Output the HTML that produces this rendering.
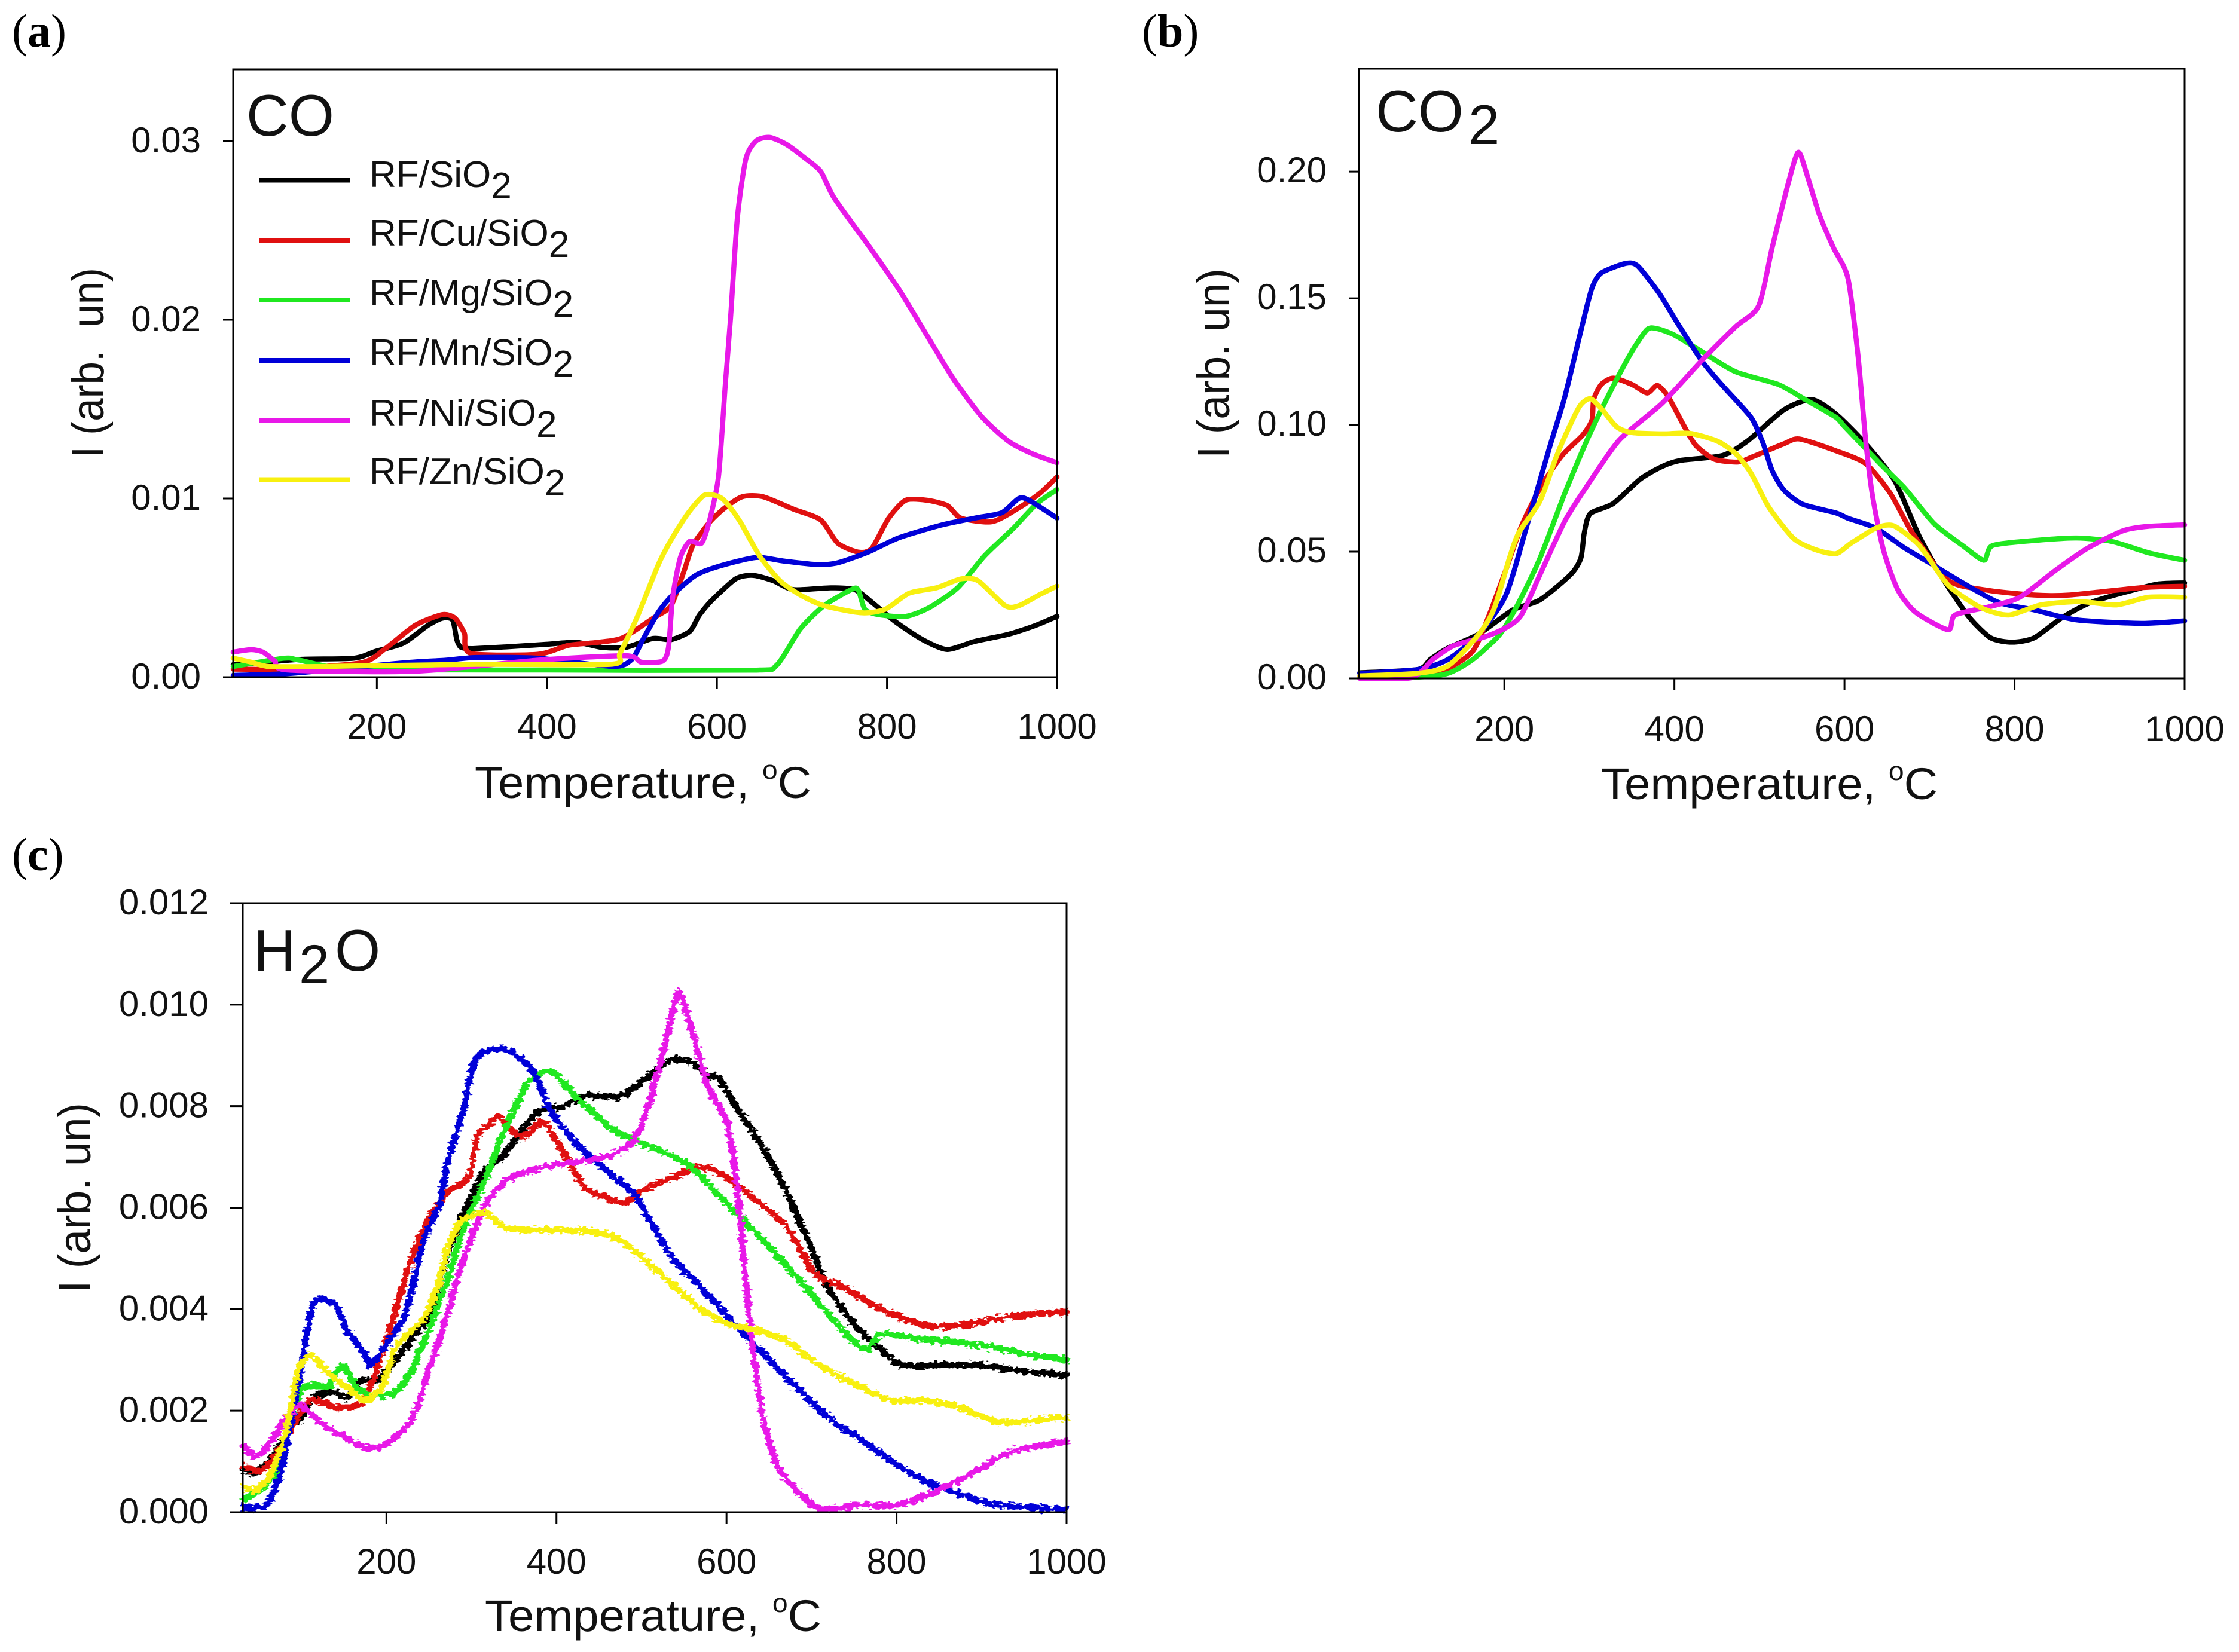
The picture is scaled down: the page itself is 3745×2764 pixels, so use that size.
<!DOCTYPE html>
<html lang="en">
<head>
<meta charset="utf-8">
<title>RF catalysts: CO, CO2 and H2O evolution versus temperature</title>
<style>
html,body{margin:0;padding:0;background:#fff;}
svg{display:block;font-family:"Liberation Sans",sans-serif;fill:#111;}
.serif{font-family:"Liberation Serif",serif;font-size:78px;fill:#000;}
.legend-text{font-size:62px;}
.title{font-size:98px;}
</style>
</head>
<body>
<svg id="fig" xmlns="http://www.w3.org/2000/svg" width="3745" height="2764" viewBox="0 0 3745 2764">
  <defs>
    <filter id="noise" filterUnits="userSpaceOnUse" x="300" y="1500" width="1600" height="1100" color-interpolation-filters="sRGB">
      <feTurbulence type="fractalNoise" baseFrequency="0.11 0.2" numOctaves="2" seed="4" result="n"/>
      <feDisplacementMap in="SourceGraphic" in2="n" scale="15" xChannelSelector="G" yChannelSelector="R"/>
    </filter>
  </defs>
  <rect width="3745" height="2764" fill="#fff"/>

  <text class="serif" x="20" y="78">(<tspan font-weight="bold">a</tspan>)</text>
  <text class="serif" x="1910" y="78">(<tspan font-weight="bold">b</tspan>)</text>
  <text class="serif" x="20" y="1456">(<tspan font-weight="bold">c</tspan>)</text>

  <g id="panel-a"></g>
  <g id="panel-b"></g>
  <g id="panel-c"></g>

  <text class="title" x="412" y="227">CO</text>
  <text class="title" x="2301" y="220">CO<tspan font-size="94" x="2456" y="241">2</tspan></text>
  <text class="title" x="424" y="1624">H<tspan font-size="92" x="500" y="1645">2</tspan><tspan font-size="98" x="560" y="1624">O</tspan></text>

  <g>
    <g>
      <line x1="434" x2="585" y1="301.5" y2="301.5" stroke="#000" stroke-width="8"/>
      <text class="legend-text" x="618" y="313">RF/SiO<tspan font-size="62" dy="19">2</tspan></text>
    </g>
    <g>
      <line x1="434" x2="585" y1="402" y2="402" stroke="#e01010" stroke-width="8"/>
      <text class="legend-text" x="618" y="411">RF/Cu/SiO<tspan font-size="62" dy="19">2</tspan></text>
    </g>
    <g>
      <line x1="434" x2="585" y1="502" y2="502" stroke="#20e820" stroke-width="8"/>
      <text class="legend-text" x="618" y="511">RF/Mg/SiO<tspan font-size="62" dy="19">2</tspan></text>
    </g>
    <g>
      <line x1="434" x2="585" y1="603" y2="603" stroke="#0000d8" stroke-width="8"/>
      <text class="legend-text" x="618" y="611">RF/Mn/SiO<tspan font-size="62" dy="19">2</tspan></text>
    </g>
    <g>
      <line x1="434" x2="585" y1="703" y2="703" stroke="#e818e8" stroke-width="8"/>
      <text class="legend-text" x="618" y="712">RF/Ni/SiO<tspan font-size="62" dy="19">2</tspan></text>
    </g>
    <g>
      <line x1="434" x2="585" y1="802.5" y2="802.5" stroke="#f8f010" stroke-width="8"/>
      <text class="legend-text" x="618" y="810">RF/Zn/SiO<tspan font-size="62" dy="19">2</tspan></text>
    </g>
  </g>
</svg>

<script>
// Shared axis ticks
const xTicks = [200, 400, 600, 800, 1000];
const coYTicks = [0, 0.01, 0.02, 0.03];
const coYLabels = ["0.00", "0.01", "0.02", "0.03"];
const co2YTicks = [0, 0.05, 0.10, 0.15, 0.20];
const co2YLabels = ["0.00", "0.05", "0.10", "0.15", "0.20"];
const h2oYTicks = [0, 0.002, 0.004, 0.006, 0.008, 0.010, 0.012];
const h2oYLabels = ["0.000", "0.002", "0.004", "0.006", "0.008", "0.010", "0.012"];

// Panel (a) CO
const coTempSi = [31,60,112,173,199,231,260,277,289,294,299,313,353,399,435,464,493,525,546,568,579,594,622,642,666,690,734,762,782,810,842,871,903,943,975,1000];
const coValSi = [0.0007,0.0008,0.001,0.00106,0.00145,0.0019,0.0029,0.0033,0.0032,0.0021,0.00167,0.0016,0.0017,0.00184,0.00195,0.00167,0.00167,0.00217,0.0021,0.00256,0.00345,0.0043,0.0055,0.0057,0.0054,0.0049,0.005,0.0049,0.0042,0.0031,0.0021,0.00155,0.002,0.0024,0.0029,0.0034];
const coTempCu = [31,85,181,209,245,277,292,303,310,389,425,460,489,525,546,561,572,592,610,630,654,690,722,742,766,782,802,822,847,871,887,924,956,980,1000];
const coValCu = [0.00045,0.00045,0.0008,0.00156,0.0029,0.0035,0.0033,0.00245,0.00134,0.00128,0.00178,0.00195,0.0022,0.0033,0.004,0.0059,0.0074,0.0087,0.0095,0.0101,0.0101,0.0094,0.0088,0.0075,0.007,0.0072,0.0089,0.0099,0.0099,0.0096,0.0089,0.0087,0.0095,0.0103,0.0112];
const coTempMg = [31,91,109,173,400,640,670,698,726,758,766,774,790,822,850,883,915,948,976,1000];
const coValMg = [0.0006,0.00106,0.00095,0.00045,0.0004,0.00039,0.00066,0.0027,0.004,0.0049,0.0049,0.0038,0.0035,0.0034,0.0039,0.005,0.0068,0.0083,0.0097,0.0105];
const coTempMn = [31,102,231,281,317,389,478,500,514,532,550,575,602,646,678,718,742,778,814,863,903,935,955,967,1000];
const coValMn = [0.0001,0.00022,0.0008,0.00095,0.0011,0.00106,0.0006,0.001,0.0022,0.0037,0.0047,0.0057,0.0062,0.0067,0.0065,0.0063,0.0064,0.007,0.0078,0.0085,0.0089,0.0092,0.01,0.0099,0.0089];
const coTempNi = [31,52,66,80,95,245,389,493,511,536,543,548,557,568,582,592,602,610,616,624,634,646,662,682,702,722,738,782,814,846,878,911,943,971,1000];
const coValNi = [0.0014,0.00154,0.0014,0.0009,0.0004,0.00033,0.00095,0.0012,0.00084,0.0009,0.00167,0.0045,0.0067,0.0076,0.0075,0.0089,0.0113,0.0165,0.0201,0.0257,0.029,0.03,0.0302,0.0298,0.0291,0.0283,0.0268,0.0239,0.0217,0.0192,0.0167,0.0146,0.0132,0.0125,0.012];
const coTempZn = [31,52,73,135,317,475,486,507,532,550,568,586,606,626,650,674,698,726,770,798,826,858,887,907,939,955,979,1000];
const coValZn = [0.00106,0.00084,0.0006,0.0006,0.00072,0.00072,0.00134,0.00346,0.0064,0.008,0.0093,0.0102,0.01,0.0088,0.0068,0.0054,0.0046,0.004,0.0036,0.0038,0.0047,0.005,0.0055,0.0054,0.004,0.004,0.0046,0.0051];

// Panel (b) CO2
const co2TempSi = [30,98,113,134,170,210,242,278,290,294,301,328,360,386,407,457,486,529,562,591,625,659,688,717,747,772,797,823,856,890,941,970,1000];
const co2ValSi = [0.0022,0.0035,0.0075,0.012,0.0175,0.027,0.031,0.041,0.0475,0.0575,0.065,0.069,0.0787,0.0837,0.086,0.088,0.0937,0.106,0.11,0.104,0.0925,0.078,0.056,0.0387,0.024,0.016,0.0143,0.016,0.024,0.03,0.035,0.0373,0.0377];
const co2TempCu = [30,98,134,163,181,202,220,242,267,292,303,305,314,328,350,368,380,393,411,425,447,475,493,529,547,590,625,654,680,722,768,823,865,949,1000];
const co2ValCu = [0.001,0.0013,0.004,0.0108,0.024,0.043,0.06,0.075,0.0876,0.096,0.102,0.11,0.116,0.1185,0.116,0.1126,0.1156,0.111,0.0998,0.092,0.0865,0.0854,0.0876,0.0926,0.0945,0.0898,0.0847,0.073,0.0573,0.0387,0.0348,0.0329,0.0329,0.0358,0.0364];
const co2TempMg = [30,98,134,163,195,217,242,271,299,328,350,368,380,400,432,472,522,554,590,600,642,671,705,739,764,774,823,873,915,958,1000];
const co2ValMg = [0.0003,0.0005,0.002,0.0075,0.0175,0.03,0.0475,0.073,0.0954,0.1154,0.129,0.1377,0.138,0.1355,0.129,0.121,0.116,0.11,0.103,0.0994,0.0847,0.075,0.0612,0.0524,0.0466,0.0524,0.0544,0.0554,0.054,0.0495,0.0466];
const co2TempMn = [30,98,134,170,202,228,253,271,292,303,314,343,357,382,404,432,457,490,504,515,529,551,590,604,637,671,705,739,781,823,873,949,1000];
const co2ValMn = [0.002,0.0035,0.0075,0.0175,0.033,0.062,0.091,0.111,0.14,0.154,0.16,0.1638,0.1627,0.152,0.14,0.1254,0.1154,0.103,0.093,0.082,0.0742,0.0687,0.0653,0.0632,0.0593,0.0514,0.0446,0.0377,0.03,0.027,0.0231,0.0217,0.0227];
const co2TempNi = [30,91,116,141,177,202,220,242,271,296,335,386,432,472,499,515,532,543,549,570,587,604,616,625,633,646,663,684,722,730,772,806,848,886,928,957,1000];
const co2ValNi = [0,0.0003,0.0075,0.013,0.0164,0.02,0.025,0.041,0.062,0.0753,0.094,0.1087,0.1254,0.1388,0.147,0.17,0.193,0.206,0.206,0.1835,0.17,0.158,0.127,0.0935,0.072,0.0505,0.0348,0.026,0.0192,0.025,0.0284,0.032,0.0426,0.0514,0.0583,0.06,0.0606];
const co2TempZn = [30,98,134,170,188,206,217,242,260,274,289,301,314,332,350,386,418,450,472,490,511,540,565,590,608,637,658,688,722,760,793,831,877,920,957,1000];
const co2ValZn = [0.001,0.002,0.005,0.0175,0.0275,0.0475,0.0575,0.07,0.0865,0.0976,0.1076,0.1104,0.1065,0.0993,0.097,0.0965,0.0967,0.0937,0.0887,0.081,0.0676,0.0553,0.0509,0.0492,0.0534,0.0593,0.0602,0.0524,0.0368,0.028,0.025,0.029,0.0303,0.029,0.032,0.032];

// Panel (c) H2O
const h2oTempSi = [32,46,64,85,100,114,139,153,171,189,207,229,250,272,293,315,336,354,379,408,433,476,505,533,554,579,591,611,631,656,676,700,717,741,761,782,806,855,896,937,1000];
const h2oValSi = [0.00086,0.00077,0.00105,0.0016,0.00185,0.00225,0.00237,0.00225,0.0026,0.0026,0.0029,0.0034,0.0039,0.0051,0.006,0.0067,0.007,0.0074,0.0079,0.008,0.0082,0.0082,0.00855,0.0089,0.0089,0.0086,0.00855,0.008,0.0075,0.0068,0.0061,0.0052,0.0045,0.0039,0.0035,0.0032,0.0029,0.0029,0.0029,0.0028,0.0027];
const h2oTempCu = [32,50,64,85,110,143,171,186,204,218,232,250,272,297,307,318,332,343,361,383,397,415,433,458,479,508,536,572,599,639,672,704,741,782,830,871,936,1000];
const h2oValCu = [0.0009,0.0008,0.001,0.00154,0.0022,0.00206,0.00215,0.0027,0.0036,0.0044,0.0051,0.0058,0.0063,0.0066,0.0074,0.0076,0.0078,0.0076,0.0074,0.0077,0.0074,0.0069,0.0064,0.0062,0.0061,0.0064,0.0066,0.0068,0.0066,0.0061,0.0056,0.0047,0.0044,0.004,0.0037,0.00367,0.00386,0.00395];
const h2oTempMg = [32,50,71,85,100,118,132,143,152,164,186,211,229,250,272,293,315,336,358,368,393,422,465,497,554,611,652,700,741,765,782,834,896,957,1000];
const h2oValMg = [0.00025,0.00043,0.0008,0.00166,0.0024,0.0025,0.00246,0.0028,0.00285,0.00246,0.0023,0.00237,0.00277,0.0036,0.0046,0.0057,0.0065,0.0074,0.0082,0.0085,0.0087,0.0082,0.00756,0.0073,0.00685,0.0059,0.0052,0.0043,0.0035,0.0032,0.0035,0.0034,0.0033,0.0031,0.003];
const h2oTempMn = [32,57,75,96,114,139,153,175,182,204,222,243,261,272,290,304,322,343,372,390,408,433,454,490,508,537,572,599,627,656,692,725,757,798,835,875,916,1000];
const h2oValMn = [0.0001,0.00012,0.00074,0.0025,0.0041,0.0041,0.0036,0.0031,0.0029,0.0034,0.0039,0.0053,0.006,0.0069,0.0079,0.0089,0.0091,0.0091,0.0087,0.008,0.00756,0.0071,0.0068,0.0063,0.0058,0.005,0.0044,0.0039,0.0034,0.0029,0.0023,0.0018,0.00144,0.00097,0.0006,0.00035,0.00014,0.00005];
const h2oTempNi = [32,46,60,82,98,128,171,196,229,250,268,289,307,322,347,386,422,458,490,508,526,533,544,558,578,601,615,627,643,660,684,713,753,802,851,896,936,1000];
const h2oValNi = [0.0013,0.0011,0.0013,0.00185,0.0021,0.0017,0.0013,0.0013,0.0018,0.0028,0.0037,0.0049,0.0057,0.0062,0.0066,0.0068,0.0069,0.007,0.0073,0.008,0.0091,0.0096,0.01026,0.00955,0.0084,0.00765,0.006,0.00377,0.00187,0.00092,0.0004,0.00005,0.00014,0.00014,0.00045,0.00083,0.0012,0.0014];
const h2oTempZn = [32,46,64,82,96,112,128,150,175,196,211,243,261,272,286,315,340,386,440,476,529,570,603,631,668,709,753,794,834,875,924,1000];
const h2oValZn = [0.0005,0.00043,0.00074,0.0016,0.0028,0.0031,0.0028,0.0025,0.0022,0.0025,0.00326,0.0038,0.0045,0.0052,0.0057,0.0059,0.0056,0.00556,0.00553,0.00535,0.0046,0.004,0.0037,0.0036,0.0034,0.0029,0.0025,0.0022,0.0022,0.00206,0.00177,0.00187];

const SVGNS = "http://www.w3.org/2000/svg";
const seriesNames = ["sio2", "cu", "mg", "mn", "ni", "zn"];
const seriesColors = ["#000000", "#e01010", "#20e820", "#0000d8", "#e818e8", "#f8f010"];

const panels = [
  {
    id: "panel-a", key: "co", left: 390, right: 1768, top: 116, bottom: 1133,
    xMin: 31, xMax: 1000, yMax: 0.03401, yTicks: coYTicks, yLabels: coYLabels,
    temps: [coTempSi, coTempCu, coTempMg, coTempMn, coTempNi, coTempZn],
    vals: [coValSi, coValCu, coValMg, coValMn, coValNi, coValZn],
    tickLeft: 17, yLabelX: 336, yLabelDy: 19, xLabelY: 1236,
    yTitleX: 173, yTitleY: 607, xTitleX: 794, xTitleY: 1335, yTitleText: "I (arb.  un)", width: 8.5, noisy: false
  },
  {
    id: "panel-b", key: "co2", left: 2273, right: 3654, top: 115, bottom: 1135,
    xMin: 29, xMax: 1000, yMax: 0.2406, yTicks: co2YTicks, yLabels: co2YLabels,
    temps: [co2TempSi, co2TempCu, co2TempMg, co2TempMn, co2TempNi, co2TempZn],
    vals: [co2ValSi, co2ValCu, co2ValMg, co2ValMn, co2ValNi, co2ValZn],
    tickLeft: 17, yLabelX: 2219, yLabelDy: 18, xLabelY: 1240,
    yTitleX: 2056, yTitleY: 608, xTitleX: 2678, xTitleY: 1337, yTitleText: "I (arb. un)", width: 8.5, noisy: false
  },
  {
    id: "panel-c", key: "h2o", left: 406, right: 1784, top: 1511, bottom: 2530,
    xMin: 31, xMax: 1000, yMax: 0.012, yTicks: h2oYTicks, yLabels: h2oYLabels,
    temps: [h2oTempSi, h2oTempCu, h2oTempMg, h2oTempMn, h2oTempNi, h2oTempZn],
    vals: [h2oValSi, h2oValCu, h2oValMg, h2oValMn, h2oValNi, h2oValZn],
    tickLeft: 21, yLabelX: 349, yLabelDy: 19, xLabelY: 2633,
    yTitleX: 151, yTitleY: 2004, xTitleX: 811, xTitleY: 2729, yTitleText: "I (arb. un)", width: 10.5, noisy: true
  }
];

function makeLine(parent, x1, y1, x2, y2, w) {
  const l = document.createElementNS(SVGNS, "line");
  l.setAttribute("x1", x1);
  l.setAttribute("y1", y1);
  l.setAttribute("x2", x2);
  l.setAttribute("y2", y2);
  l.setAttribute("stroke", "#000");
  l.setAttribute("stroke-width", w);
  parent.appendChild(l);
  return l;
}

function makeText(parent, x, y, str, size, anchor) {
  const t = document.createElementNS(SVGNS, "text");
  t.setAttribute("x", x);
  t.setAttribute("y", y);
  t.setAttribute("font-size", size);
  t.setAttribute("text-anchor", anchor);
  t.textContent = str;
  parent.appendChild(t);
  return t;
}

// Rounded path through the mapped data points
function smoothPath(pts) {
  const f = 0.12;
  let d = "M" + pts[0][0].toFixed(1) + " " + pts[0][1].toFixed(1);
  for (let k = 0; k < pts.length - 1; k++) {
    const p0 = pts[Math.max(k - 1, 0)];
    const p1 = pts[k];
    const p2 = pts[k + 1];
    const p3 = pts[Math.min(k + 2, pts.length - 1)];
    const c1x = p1[0] + (p2[0] - p0[0]) * f;
    const c1y = p1[1] + (p2[1] - p0[1]) * f;
    const c2x = p2[0] - (p3[0] - p1[0]) * f;
    const c2y = p2[1] - (p3[1] - p1[1]) * f;
    d += "C" + c1x.toFixed(1) + " " + c1y.toFixed(1) + " " + c2x.toFixed(1) + " " + c2y.toFixed(1) + " " + p2[0].toFixed(1) + " " + p2[1].toFixed(1);
  }
  return d;
}

panels.forEach(function (p) {
  const root = document.getElementById(p.id);
  const xScale = function (t) { return p.left + (t - p.xMin) / (p.xMax - p.xMin) * (p.right - p.left); };
  const yScale = function (v) { return p.bottom - v / p.yMax * (p.bottom - p.top); };

  const marks = document.createElementNS(SVGNS, "g");
  
  
  if (p.noisy) { marks.setAttribute("filter", "url(#noise)"); }
  root.appendChild(marks);

  seriesNames.forEach(function (name, i) {
    const ts = p.temps[i];
    const vs = p.vals[i];
    const pts = ts.map(function (t, k) { return [xScale(t), yScale(vs[k])]; });
    const path = document.createElementNS(SVGNS, "path");
    
    
    path.setAttribute("d", smoothPath(pts));
    path.setAttribute("fill", "none");
    path.setAttribute("stroke", seriesColors[i]);
    path.setAttribute("stroke-width", p.width);
    path.setAttribute("stroke-linejoin", "round");
    path.setAttribute("stroke-linecap", "round");
    marks.appendChild(path);
  });

  const frame = document.createElementNS(SVGNS, "rect");
  
  
  frame.setAttribute("x", p.left);
  frame.setAttribute("y", p.top);
  frame.setAttribute("width", p.right - p.left);
  frame.setAttribute("height", p.bottom - p.top);
  frame.setAttribute("fill", "none");
  frame.setAttribute("stroke", "#000");
  frame.setAttribute("stroke-width", "3");
  root.appendChild(frame);

  const xAxis = document.createElementNS(SVGNS, "g");
  
  
  root.appendChild(xAxis);
  xTicks.forEach(function (t) {
    const tick = makeLine(xAxis, xScale(t), p.bottom, xScale(t), p.bottom + 20, 3);
    
    
    const label = makeText(xAxis, xScale(t), p.xLabelY, String(t), 60, "middle");
    
    
  });

  const yAxis = document.createElementNS(SVGNS, "g");
  
  
  root.appendChild(yAxis);
  p.yTicks.forEach(function (v, i) {
    const tick = makeLine(yAxis, p.left - p.tickLeft, yScale(v), p.left, yScale(v), 3);
    
    
    const label = makeText(yAxis, p.yLabelX, yScale(v) + p.yLabelDy, p.yLabels[i], 60, "end");
    
    
  });

  const xTitle = makeText(root, p.xTitleX, p.xTitleY, "Temperature, ", 74, "start");
  
  
  xTitle.setAttribute("textLength", "563");
  xTitle.setAttribute("lengthAdjust", "spacingAndGlyphs");
  const deg = document.createElementNS(SVGNS, "tspan");
  deg.setAttribute("font-size", "44");
  deg.setAttribute("dy", "-32");
  deg.textContent = "o";
  xTitle.appendChild(deg);
  const cel = document.createElementNS(SVGNS, "tspan");
  cel.setAttribute("dy", "32");
  cel.textContent = "C";
  xTitle.appendChild(cel);

  const yTitle = makeText(root, 0, 0, p.yTitleText, 76, "middle");
  
  
  yTitle.setAttribute("xml:space", "preserve");
  yTitle.style.whiteSpace = "pre";
  yTitle.setAttribute("transform", "translate(" + p.yTitleX + "," + p.yTitleY + ") rotate(-90)");
  yTitle.setAttribute("textLength", "318");
  yTitle.setAttribute("lengthAdjust", "spacingAndGlyphs");
});
</script>
</body>
</html>
